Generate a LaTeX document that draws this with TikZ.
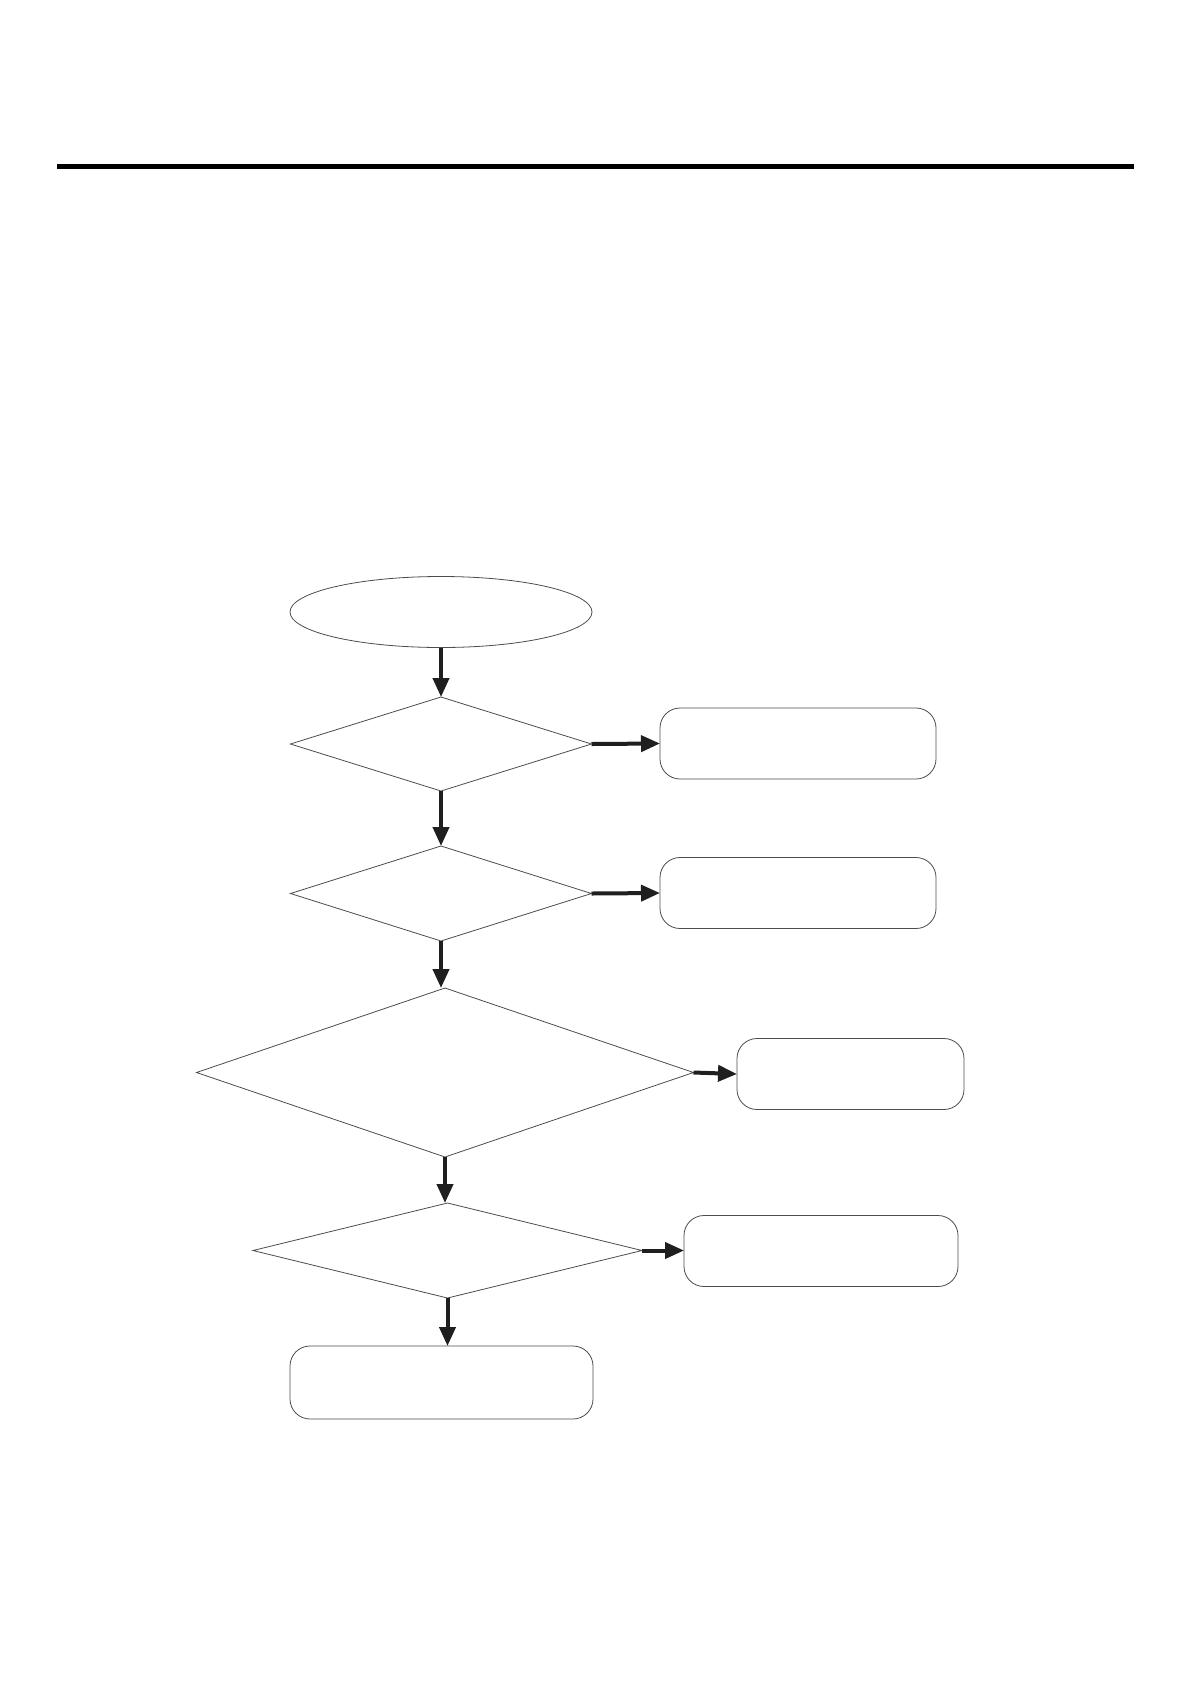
\documentclass[tikz,border=0pt]{standalone}
\usetikzlibrary{shapes.geometric,arrows.meta}
\begin{document}
\begin{tikzpicture}[x=1pt,y=-1pt,
  shp/.style={draw=black!70,line width=0.8pt,inner sep=0pt,outer sep=0pt},
  term/.style={shp,ellipse,minimum width=302pt,minimum height=71pt},
  dec/.style={shp,diamond,minimum width=#1},
  dec/.default=301pt,
  proc/.style={shp,rectangle,rounded corners=20pt,minimum height=71pt},
  arr/.style={line width=4pt,draw=black!88,-{Triangle[length=19pt,width=16pt]}}
]
\useasboundingbox (0,0) rectangle (1190,1682);
\fill[black] (57,163.5) rectangle (1134,169);

\node[term] (start) at (441,612) {};
\node[dec,minimum height=94pt] (d1) at (441,744) {};
\node[proc,minimum width=276pt] (b1) at (798,743.5) {};
\node[dec,minimum height=95pt] (d2) at (441,893.5) {};
\node[proc,minimum width=276pt] (b2) at (798,893) {};
\node[dec=497pt,minimum height=169pt] (d3) at (445,1072.5) {};
\node[proc,minimum width=227pt] (b3) at (850.5,1074) {};
\node[dec=389pt,minimum height=95pt] (d4) at (447.5,1250.5) {};
\node[proc,minimum width=274pt] (b4) at (821,1251) {};
\node[proc,minimum width=303pt,minimum height=73pt] (b5) at (441.5,1382.5) {};

\draw[arr] (start.south) -- (d1.north);
\draw[arr] (d1.east) -- (b1.west);
\draw[arr] (d1.south) -- (d2.north);
\draw[arr] (d2.east) -- (b2.west);
\draw[arr] (d2.south) -- (d2.south |- d3.north);
\draw[arr] (d3.east) -- (b3.west);
\draw[arr] (d3.south) -- (d3.south |- d4.north);
\draw[arr] (d4.east) -- (d4.east -| b4.west);
\draw[arr] (d4.south) -- (d4.south |- b5.north);
\end{tikzpicture}
\end{document}
